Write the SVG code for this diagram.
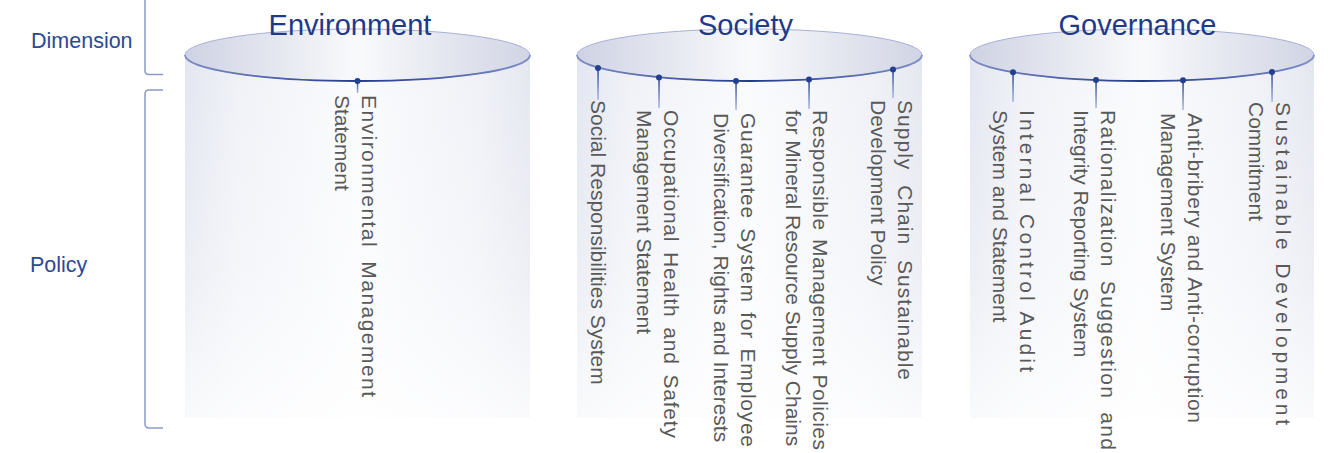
<svg xmlns="http://www.w3.org/2000/svg" width="1329" height="453" viewBox="0 0 1329 453">
<style>
.title{font-family:"Liberation Sans",Arial,sans-serif;font-size:29px;fill:#1f3a8a;text-anchor:middle}
.side{font-family:"Liberation Sans",Arial,sans-serif;font-size:21.5px;fill:#2b4a94}
.pol{font-family:"Liberation Sans",Arial,sans-serif;font-size:21px;fill:#595959}
.brk{fill:none;stroke:#8a9bc6;stroke-width:1.5}
.cap{fill:url(#capFill);stroke:#a9b0d8;stroke-width:1}
.rim{fill:none;stroke:url(#rimStroke);stroke-width:1.8}
.body{fill:url(#bodyFill)}
.fade{fill:url(#fadeFill)}
.dot{fill:#23408f}
.stem{fill:url(#stemFill)}
</style>
<defs>
<linearGradient id="capFill" x1="0" y1="0" x2="1" y2="0">
<stop offset="0" stop-color="#cfd2e3"/>
<stop offset="0.5" stop-color="#f9fafc"/>
<stop offset="1" stop-color="#d1d4e4"/>
</linearGradient>
<linearGradient id="rimStroke" x1="0" y1="0" x2="1" y2="0">
<stop offset="0" stop-color="#7f8fc8"/>
<stop offset="0.5" stop-color="#22398a"/>
<stop offset="1" stop-color="#7f8fc8"/>
</linearGradient>
<linearGradient id="bodyFill" x1="0" y1="0" x2="1" y2="0">
<stop offset="0" stop-color="#e3e6f0"/>
<stop offset="0.15" stop-color="#eff1f7"/>
<stop offset="0.5" stop-color="#fafbfd"/>
<stop offset="0.85" stop-color="#eff1f7"/>
<stop offset="1" stop-color="#e5e7f0"/>
</linearGradient>
<linearGradient id="fadeFill" x1="0" y1="0" x2="0" y2="1">
<stop offset="0" stop-color="#ffffff" stop-opacity="0"/>
<stop offset="0.6" stop-color="#ffffff" stop-opacity="0.35"/>
<stop offset="1" stop-color="#ffffff" stop-opacity="0.8"/>
</linearGradient>
<linearGradient id="stemFill" x1="0" y1="0" x2="0" y2="1">
<stop offset="0" stop-color="#23408f"/>
<stop offset="1" stop-color="#a9b8e2"/>
</linearGradient>
</defs>
<rect width="1329" height="453" fill="#ffffff"/>

<g id="labels">
<text class="side" x="31" y="48">Dimension</text>
<text class="side" x="30" y="272">Policy</text>
<path class="brk" d="M145,-5 L145,70.5 Q145,74.5 149,74.5 L163,74.5"/>
<path class="brk" d="M163,90 L149,90 Q145,90 145,94 L145,424 Q145,428 149,428 L163,428"/>
</g>

<g id="cyl-environment">
<rect class="body" x="185" y="55" width="345" height="363"/>
<rect class="fade" x="185" y="55" width="345" height="363"/>
<ellipse class="cap" cx="357.5" cy="55" rx="172.5" ry="26"/>
<path class="rim" d="M185,55 A172.5,26 0 0 0 530,55"/>
<text class="title" x="350" y="35">Environment</text>
</g>

<g id="cyl-society">
<rect class="body" x="577" y="55" width="345" height="363"/>
<rect class="fade" x="577" y="55" width="345" height="363"/>
<ellipse class="cap" cx="749.5" cy="55" rx="172.5" ry="26"/>
<path class="rim" d="M577,55 A172.5,26 0 0 0 922,55"/>
<text class="title" x="745.5" y="35">Society</text>
</g>

<g id="cyl-governance">
<rect class="body" x="970" y="55" width="344" height="363"/>
<rect class="fade" x="970" y="55" width="344" height="363"/>
<ellipse class="cap" cx="1142" cy="55" rx="172" ry="26"/>
<path class="rim" d="M970,55 A172,26 0 0 0 1314,55"/>
<text class="title" x="1137.5" y="35">Governance</text>
</g>

<g id="connectors">
<rect class="stem" x="356.8" y="81" width="1.5" height="12"/>
<circle class="dot" cx="357.5" cy="81" r="3"/>
<rect class="stem" x="597.3" y="68" width="1.5" height="32"/>
<circle class="dot" cx="598" cy="68" r="3"/>
<rect class="stem" x="658.3" y="77.5" width="1.5" height="30.5"/>
<circle class="dot" cx="659" cy="77.5" r="3"/>
<rect class="stem" x="735.3" y="81" width="1.5" height="29"/>
<circle class="dot" cx="736" cy="81" r="3"/>
<rect class="stem" x="808.3" y="79.5" width="1.5" height="29.5"/>
<circle class="dot" cx="809" cy="79.5" r="3"/>
<rect class="stem" x="892.3" y="69.5" width="1.5" height="28.5"/>
<circle class="dot" cx="893" cy="69.5" r="3"/>
<rect class="stem" x="1012.3" y="72.2" width="1.5" height="29.8"/>
<circle class="dot" cx="1013" cy="72.2" r="3"/>
<rect class="stem" x="1095.3" y="80.1" width="1.5" height="27.9"/>
<circle class="dot" cx="1096" cy="80.1" r="3"/>
<rect class="stem" x="1182.3" y="80.3" width="1.5" height="29.7"/>
<circle class="dot" cx="1183" cy="80.3" r="3"/>
<rect class="stem" x="1271.3" y="72" width="1.5" height="30"/>
<circle class="dot" cx="1272" cy="72" r="3"/>
</g>

<g id="pol-env-1">
<text class="pol" transform="translate(362,95) rotate(90)" word-spacing="6" textLength="302" lengthAdjust="spacing">Environmental Management</text>
<text class="pol" transform="translate(335,95) rotate(90)">Statement</text>
</g>

<g id="pol-soc-1">
<text class="pol" transform="translate(591,100) rotate(90)">Social Responsibilities System</text>
</g>
<g id="pol-soc-2">
<text class="pol" transform="translate(664,110) rotate(90)" word-spacing="3" textLength="328" lengthAdjust="spacing">Occupational Health and Safety</text>
<text class="pol" transform="translate(637,110) rotate(90)">Management Statement</text>
</g>
<g id="pol-soc-3">
<text class="pol" transform="translate(741,113) rotate(90)" word-spacing="3" textLength="334" lengthAdjust="spacing">Guarantee System for Employee</text>
<text class="pol" transform="translate(714,113) rotate(90)">Diversification, Rights and Interests</text>
</g>
<g id="pol-soc-4">
<text class="pol" transform="translate(813,110) rotate(90)" word-spacing="2" textLength="340" lengthAdjust="spacing">Responsible Management Policies</text>
<text class="pol" transform="translate(786,110) rotate(90)">for Mineral Resource Supply Chains</text>
</g>
<g id="pol-soc-5">
<text class="pol" transform="translate(898,100) rotate(90)" word-spacing="8" textLength="280" lengthAdjust="spacing">Supply Chain Sustainable</text>
<text class="pol" transform="translate(871,100) rotate(90)">Development Policy</text>
</g>

<g id="pol-gov-1">
<text class="pol" transform="translate(1020,110) rotate(90)" textLength="262" lengthAdjust="spacing">Internal Control Audit</text>
<text class="pol" transform="translate(993,110) rotate(90)">System and Statement</text>
</g>
<g id="pol-gov-2">
<text class="pol" transform="translate(1101,110) rotate(90)" word-spacing="6" textLength="340" lengthAdjust="spacing">Rationalization Suggestion and</text>
<text class="pol" transform="translate(1074,110) rotate(90)">Integrity Reporting System</text>
</g>
<g id="pol-gov-3">
<text class="pol" transform="translate(1188,113) rotate(90)" textLength="310" lengthAdjust="spacing">Anti-bribery and Anti-corruption</text>
<text class="pol" transform="translate(1161,113) rotate(90)">Management System</text>
</g>
<g id="pol-gov-4">
<text class="pol" transform="translate(1276,102) rotate(90)" textLength="323" lengthAdjust="spacing">Sustainable Development</text>
<text class="pol" transform="translate(1249,102) rotate(90)">Commitment</text>
</g>
</svg>
